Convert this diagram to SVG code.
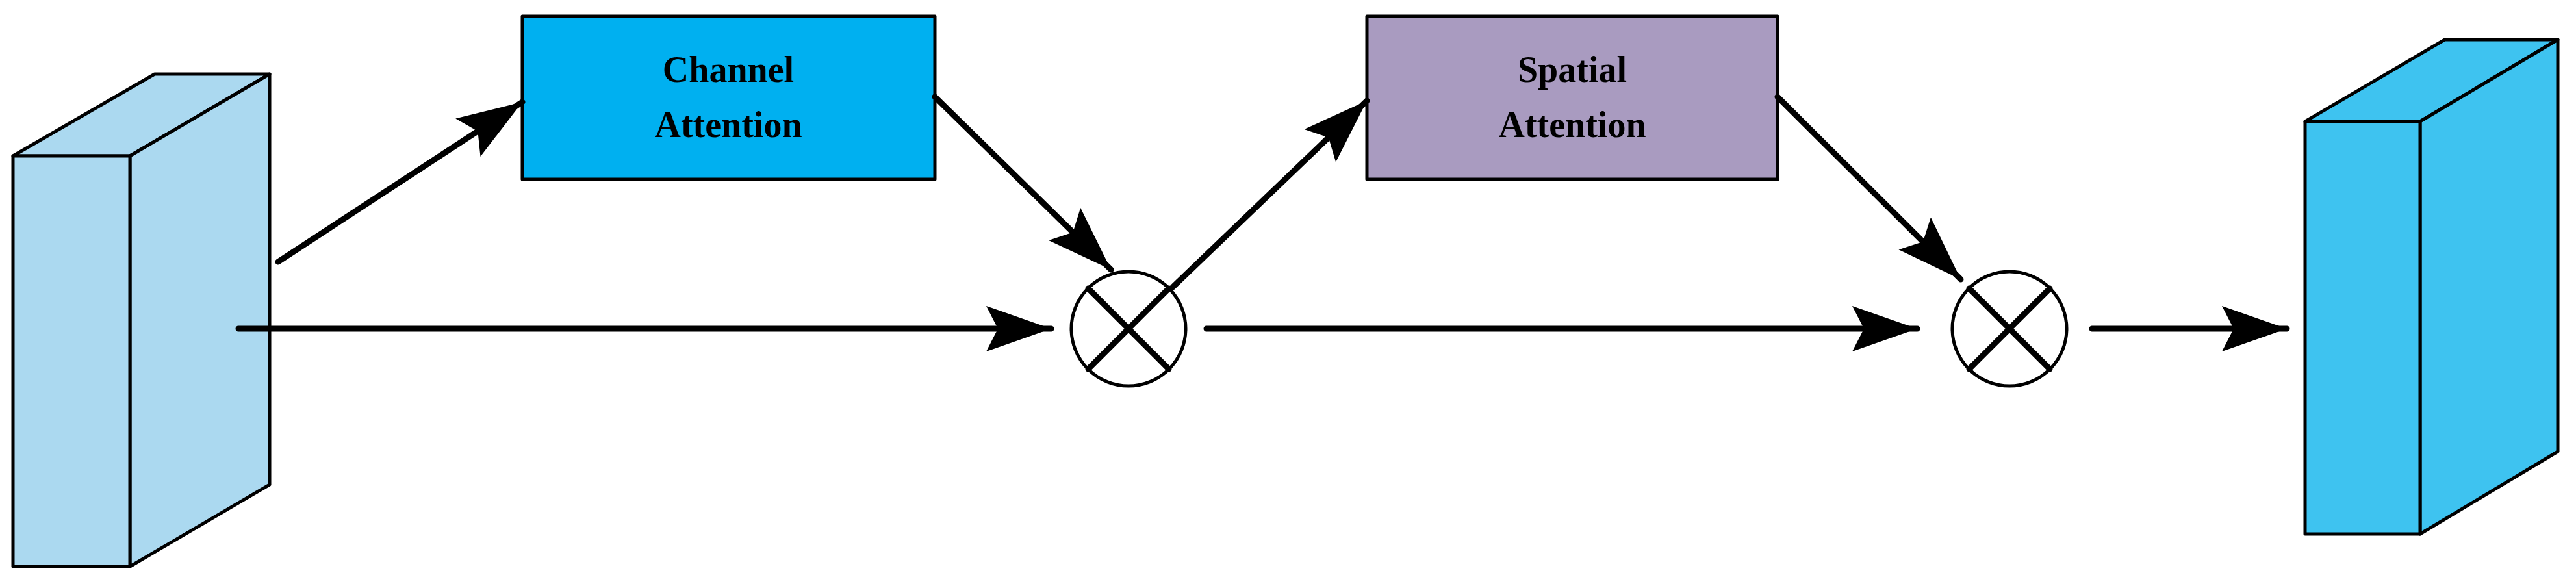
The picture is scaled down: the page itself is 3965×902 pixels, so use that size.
<svg xmlns="http://www.w3.org/2000/svg" width="3965" height="902" viewBox="0 0 3965 902">
<style>
.o{stroke:#000;stroke-width:5;stroke-linejoin:round}
.c{stroke:#000;stroke-width:9;fill:none;stroke-linecap:round}
.t{font-family:"Liberation Serif",serif;font-weight:bold;font-size:56px;text-anchor:middle}
</style>
<defs>
<marker id="a" markerUnits="userSpaceOnUse" markerWidth="110" markerHeight="80" refX="100" refY="35" orient="auto">
<path d="M0,0 L100,35 L0,70 L18,35 z" fill="#000"/>
</marker>
</defs>
<rect width="3965" height="902" fill="#fff"/>
<g id="input">
<polygon class="o" fill="#ABD9F0" points="20,240 238,114 415,114 200,240"/>
<polygon class="o" fill="#ABD9F0" points="200,240 415,114 415,746 200,872"/>
<rect class="o" fill="#ABD9F0" x="20" y="240" width="180" height="632"/>
</g>
<g id="channel">
<rect class="o" fill="#00B0F0" x="804" y="25" width="635" height="251"/>
<text class="t" x="1121" y="126">Channel</text>
<text class="t" x="1121" y="211">Attention</text>
</g>
<g id="spatial">
<rect class="o" fill="#A99BC0" x="2104" y="25" width="632" height="251"/>
<text class="t" x="2420" y="126">Spatial</text>
<text class="t" x="2420" y="211">Attention</text>
</g>
<g id="mult1">
<circle class="o" cx="1737" cy="506" r="88" fill="#fff" stroke-width="9"/>
<path class="c" d="M1675,444 L1799,568 M1799,444 L1675,568"/>
</g>
<g id="mult2">
<circle class="o" cx="3093" cy="506" r="88" fill="#fff" stroke-width="9"/>
<path class="c" d="M3031,444 L3155,568 M3155,444 L3031,568"/>
</g>
<g id="output">
<polygon class="o" fill="#3EC3F0" points="3548,187 3763,61 3937,61 3725,187"/>
<polygon class="o" fill="#3EC3F0" points="3725,187 3937,61 3937,695 3725,822"/>
<rect class="o" fill="#3EC3F0" x="3548" y="187" width="177" height="635"/>
</g>
<g id="connectors">
<line class="c" x1="367" y1="506" x2="1618" y2="506" marker-end="url(#a)"/>
<line class="c" x1="428" y1="403" x2="804" y2="157" marker-end="url(#a)"/>
<line class="c" x1="1439" y1="149" x2="1710" y2="415" marker-end="url(#a)"/>
<line class="c" x1="1805" y1="442" x2="2104" y2="155" marker-end="url(#a)"/>
<line class="c" x1="2736" y1="149" x2="3018" y2="430" marker-end="url(#a)"/>
<line class="c" x1="1857" y1="506" x2="2951" y2="506" marker-end="url(#a)"/>
<line class="c" x1="3220" y1="506" x2="3520" y2="506" marker-end="url(#a)"/>
</g>
</svg>
